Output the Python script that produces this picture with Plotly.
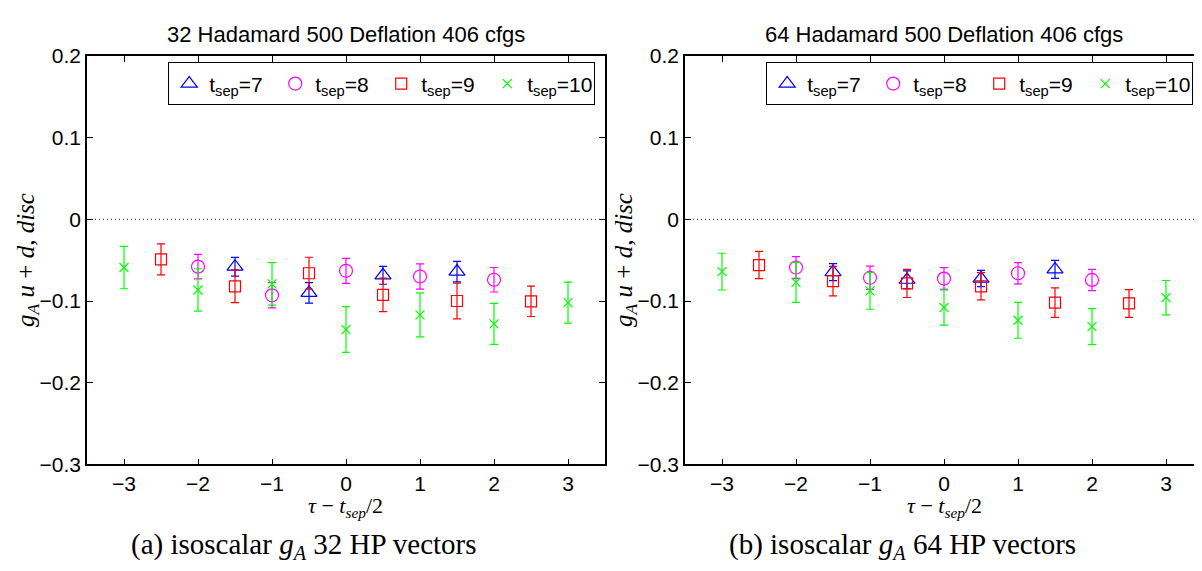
import plotly.graph_objects as go

# tau - t_sep/2 positions for each source-sink separation
x7 = [-1.5, -0.5, 0.5, 1.5]
x8 = [-2, -1, 0, 1, 2]
x9 = [-2.5, -1.5, -0.5, 0.5, 1.5, 2.5]
x10 = [-3, -2, -1, 0, 1, 2, 3]

# 32 HP vectors
a7 = [-0.058, -0.090, -0.0685, -0.064]
a7_err = [0.0115, 0.0125, 0.011, 0.0125]
a8 = [-0.058, -0.093, -0.063, -0.070, -0.074]
a8_err = [0.015, 0.0155, 0.0153, 0.0155, 0.015]
a9 = [-0.049, -0.082, -0.066, -0.0925, -0.100, -0.1004]
a9_err = [0.019, 0.020, 0.0196, 0.0204, 0.022, 0.0186]
a10 = [-0.059, -0.0865, -0.079, -0.135, -0.117, -0.128, -0.102]
a10_err = [0.026, 0.026, 0.026, 0.028, 0.027, 0.025, 0.025]

# 64 HP vectors
b7 = [-0.0646, -0.074, -0.0725, -0.0613]
b7_err = [0.0104, 0.011, 0.010, 0.011]
b8 = [-0.059, -0.0715, -0.0725, -0.066, -0.0742]
b8_err = [0.0133, 0.0143, 0.0133, 0.013, 0.013]
b9 = [-0.056, -0.0756, -0.0785, -0.082, -0.102, -0.103]
b9_err = [0.0167, 0.018, 0.0172, 0.0167, 0.018, 0.017]
b10 = [-0.064, -0.0772, -0.0876, -0.108, -0.1236, -0.1313, -0.0959]
b10_err = [0.0225, 0.0245, 0.0225, 0.0215, 0.022, 0.022, 0.021]

labels = ['t<sub>sep</sub>=7', 't<sub>sep</sub>=8', 't<sub>sep</sub>=9', 't<sub>sep</sub>=10']
colors = ['#0000ff', '#ff00ff', '#ff0000', '#00ff00']
symbols = ['triangle-up-open', 'circle-open', 'square-open', 'x-thin-open']
sizes = [14, 13, 11, 9]

titles = ['32 Hadamard 500 Deflation 406 cfgs', '64 Hadamard 500 Deflation 406 cfgs']
captions = ['(a) isoscalar <i>g</i><sub><i>A</i></sub> 32 HP vectors',
            '(b) isoscalar <i>g</i><sub><i>A</i></sub> 64 HP vectors']
xlabel = '<i>τ</i> − <i>t</i><sub><i>sep</i></sub>/2'
ylabel = '<i>g</i><sub><i>A</i></sub> <i>u</i> + <i>d</i>, <i>disc</i>'

W, H = 1202, 571
xdom = [[79 / W, 597 / W], [677 / W, 1195 / W]]
ydom = [1 - 463 / H, 1 - 37.5 / H]
sans = 'Liberation Sans, Arial'
serif = 'Liberation Serif, serif'

fig = go.Figure()

panels = [
	[(x7, a7, a7_err), (x8, a8, a8_err), (x9, a9, a9_err), (x10, a10, a10_err)],
	[(x7, b7, b7_err), (x8, b8, b8_err), (x9, b9, b9_err), (x10, b10, b10_err)],
]

for p in range(2):
	ax = '' if p == 0 else '2'
	leg = 'legend' if p == 0 else 'legend2'
	for k in range(4):
		xs, ys, es = panels[p][k]
		fig.add_trace(go.Scatter(
			x=xs, y=ys, mode='markers', name=labels[k],
			xaxis='x' + ax, yaxis='y' + ax, legend=leg,
			marker=dict(symbol=symbols[k], size=sizes[k], color=colors[k],
						line=dict(color=colors[k], width=1.2)),
			error_y=dict(type='data', array=es, color=colors[k], thickness=1.2, width=4),
		))

axis_common = dict(
	showline=True, linecolor='black', linewidth=1.5, mirror='ticks',
	ticks='inside', ticklen=6, tickcolor='black', tickwidth=1,
	showgrid=False, zeroline=False,
	tickfont=dict(family=sans, size=21, color='black'),
)

layout = dict(
	width=W, height=H, margin=dict(l=0, r=0, t=0, b=0),
	plot_bgcolor='white', paper_bgcolor='white', showlegend=True,
	annotations=[], shapes=[],
)

for p in range(2):
	ax = '' if p == 0 else '2'
	layout['xaxis' + ax] = dict(
		axis_common, domain=xdom[p], range=[-3.5, 3.5], tickvals=[-3, -2, -1, 0, 1, 2, 3],
		anchor='y' + ax,
	)
	layout['yaxis' + ax] = dict(
		axis_common, domain=ydom, range=[-0.3, 0.2],
		tickvals=[-0.3, -0.2, -0.1, 0, 0.1, 0.2], anchor='x' + ax,
	)
	leg = 'legend' if p == 0 else 'legend2'
	layout[leg] = dict(
		orientation='h', x=xdom[p][1] - 10 / W, xanchor='right', y=1 - 44 / H, yanchor='top',
		bgcolor='white', bordercolor='black', borderwidth=1.2,
		font=dict(family=sans, size=21, color='black'),
		entrywidth=61, entrywidthmode='pixels', itemwidth=30, tracegroupgap=0,
	)
	cx = sum(xdom[p]) / 2
	layout['annotations'] += [
		dict(text=titles[p], xref='paper', yref='paper', x=cx, y=1 - 15 / H,
			 xanchor='center', yanchor='middle', showarrow=False,
			 font=dict(family=sans, size=22, color='black')),
		dict(text=xlabel, xref='paper', yref='paper', x=cx, y=1 - 507 / H,
			 xanchor='center', yanchor='middle', showarrow=False,
			 font=dict(family=serif, size=22, color='black')),
		dict(text=ylabel, xref='paper', yref='paper', x=(20 + 598 * p) / W, y=1 - 250 / H,
			 xanchor='center', yanchor='middle', showarrow=False, textangle=-90,
			 font=dict(family=serif, size=25, color='black')),
		dict(text=captions[p], xref='paper', yref='paper', x=(296 + 598 * p) / W, y=1 - 548 / H,
			 xanchor='center', yanchor='middle', showarrow=False,
			 font=dict(family=serif, size=29, color='black')),
	]
	layout['shapes'].append(dict(
		type='line', xref='x' + ax + ' domain', yref='y' + ax, x0=0, x1=1, y0=0, y1=0,
		line=dict(color='#333333', width=1, dash='1px,3px'),
	))

fig.update_layout(layout)
fig.write_html('out.html')
